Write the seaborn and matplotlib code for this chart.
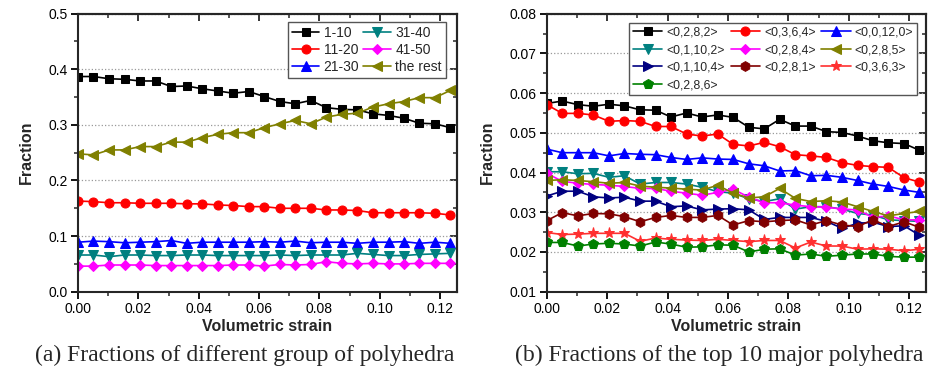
import matplotlib
matplotlib.use("Agg")
import matplotlib.pyplot as plt
from matplotlib.ticker import MultipleLocator, FormatStrFormatter
import seaborn as sns

# volumetric strain (x) shared by both panels
strain = [0.0, 0.0051, 0.0103, 0.0154, 0.0206, 0.0257, 0.0309, 0.0360, 0.0411,
          0.0463, 0.0514, 0.0566, 0.0617, 0.0669, 0.0720, 0.0771, 0.0823, 0.0874,
          0.0926, 0.0977, 0.1029, 0.1080, 0.1131, 0.1183, 0.1234]

# (a) groups of polyhedra
g1_10 = [0.387, 0.387, 0.383, 0.382, 0.379, 0.379, 0.369, 0.370, 0.365, 0.361, 0.357, 0.360, 0.351,
         0.342, 0.338, 0.344, 0.331, 0.328, 0.327, 0.320, 0.317, 0.312, 0.303, 0.302, 0.295]
g11_20 = [0.163, 0.162, 0.160, 0.160, 0.159, 0.159, 0.159, 0.158, 0.158, 0.156, 0.155, 0.153, 0.153,
          0.150, 0.150, 0.150, 0.147, 0.147, 0.146, 0.142, 0.142, 0.142, 0.142, 0.141, 0.138]
g21_30 = [0.089, 0.091, 0.090, 0.088, 0.089, 0.090, 0.092, 0.087, 0.089, 0.089, 0.089, 0.089, 0.090,
          0.089, 0.091, 0.088, 0.089, 0.089, 0.087, 0.089, 0.089, 0.090, 0.087, 0.089, 0.087]
g31_40 = [0.066, 0.066, 0.063, 0.066, 0.066, 0.065, 0.065, 0.066, 0.066, 0.065, 0.065, 0.065, 0.065,
          0.066, 0.065, 0.066, 0.066, 0.066, 0.069, 0.067, 0.065, 0.065, 0.067, 0.068, 0.069]
g41_50 = [0.046, 0.046, 0.048, 0.048, 0.048, 0.047, 0.047, 0.047, 0.047, 0.047, 0.048, 0.048, 0.046,
          0.049, 0.048, 0.049, 0.054, 0.051, 0.050, 0.051, 0.050, 0.050, 0.051, 0.051, 0.051]
g_rest = [0.248, 0.246, 0.255, 0.255, 0.261, 0.261, 0.269, 0.269, 0.277, 0.283, 0.286, 0.286, 0.295,
          0.302, 0.308, 0.302, 0.314, 0.319, 0.321, 0.332, 0.338, 0.342, 0.349, 0.349, 0.362]

labels_a = ["1-10", "11-20", "21-30", "31-40", "41-50", "the rest"]
series_a = [g1_10, g11_20, g21_30, g31_40, g41_50, g_rest]

# (b) top 10 polyhedra
p0282 = [0.0574, 0.0580, 0.0571, 0.0567, 0.0572, 0.0568, 0.0558, 0.0557, 0.0540, 0.0550, 0.0540, 0.0545, 0.0539,
         0.0514, 0.0510, 0.0534, 0.0517, 0.0517, 0.0503, 0.0501, 0.0492, 0.0480, 0.0475, 0.0473, 0.0456]
p0364 = [0.0571, 0.0549, 0.0549, 0.0545, 0.0529, 0.0531, 0.0529, 0.0516, 0.0516, 0.0497, 0.0492, 0.0497, 0.0471,
         0.0467, 0.0476, 0.0465, 0.0445, 0.0442, 0.0438, 0.0425, 0.0418, 0.0415, 0.0413, 0.0387, 0.0376]
p00120 = [0.0459, 0.0450, 0.0450, 0.0450, 0.0442, 0.0448, 0.0446, 0.0445, 0.0438, 0.0433, 0.0437, 0.0434, 0.0433,
          0.0422, 0.0417, 0.0404, 0.0405, 0.0392, 0.0393, 0.0388, 0.0380, 0.0371, 0.0365, 0.0356, 0.0350]
p01102 = [0.0402, 0.0402, 0.0397, 0.0398, 0.0388, 0.0392, 0.0371, 0.0375, 0.0375, 0.0371, 0.0363, 0.0352, 0.0348,
          0.0334, 0.0327, 0.0334, 0.0308, 0.0314, 0.0314, 0.0308, 0.0297, 0.0293, 0.0281, 0.0279, 0.0277]
p0284 = [0.0398, 0.0378, 0.0373, 0.0370, 0.0368, 0.0365, 0.0360, 0.0360, 0.0353, 0.0348, 0.0343, 0.0350, 0.0358,
         0.0338, 0.0324, 0.0324, 0.0318, 0.0314, 0.0313, 0.0308, 0.0306, 0.0287, 0.0291, 0.0281, 0.0281]
p0285 = [0.0380, 0.0382, 0.0380, 0.0377, 0.0373, 0.0375, 0.0366, 0.0363, 0.0361, 0.0358, 0.0356, 0.0368, 0.0348,
         0.0336, 0.0339, 0.0360, 0.0335, 0.0327, 0.0329, 0.0326, 0.0314, 0.0302, 0.0291, 0.0297, 0.0302]
p01104 = [0.0341, 0.0353, 0.0353, 0.0339, 0.0336, 0.0338, 0.0328, 0.0328, 0.0314, 0.0316, 0.0306, 0.0308, 0.0309,
          0.0306, 0.0282, 0.0287, 0.0287, 0.0287, 0.0277, 0.0260, 0.0272, 0.0275, 0.0264, 0.0266, 0.0242]
p0281 = [0.0279, 0.0299, 0.0291, 0.0297, 0.0296, 0.0289, 0.0276, 0.0287, 0.0292, 0.0287, 0.0287, 0.0292, 0.0268,
         0.0279, 0.0276, 0.0279, 0.0281, 0.0268, 0.0279, 0.0268, 0.0264, 0.0281, 0.0264, 0.0276, 0.0262]
p0363 = [0.0249, 0.0244, 0.0245, 0.0247, 0.0247, 0.0247, 0.0227, 0.0235, 0.0232, 0.0230, 0.0229, 0.0232, 0.0229,
         0.0226, 0.0229, 0.0229, 0.0210, 0.0225, 0.0215, 0.0215, 0.0207, 0.0208, 0.0207, 0.0203, 0.0207]
p0286 = [0.0224, 0.0224, 0.0215, 0.0220, 0.0222, 0.0220, 0.0215, 0.0225, 0.0220, 0.0212, 0.0213, 0.0218, 0.0217,
         0.0200, 0.0207, 0.0208, 0.0192, 0.0195, 0.0189, 0.0192, 0.0195, 0.0195, 0.0189, 0.0187, 0.0187]

labels_b = ["<0,2,8,2>", "<0,3,6,4>", "<0,0,12,0>", "<0,1,10,2>", "<0,2,8,4>",
            "<0,2,8,5>", "<0,1,10,4>", "<0,2,8,1>", "<0,3,6,3>", "<0,2,8,6>"]
series_b = [p0282, p0364, p00120, p01102, p0284, p0285, p01104, p0281, p0363, p0286]

colors = ["#000000", "#ff0000", "#0000ff", "#008080", "#ff00ff", "#808000",
          "#000080", "#800000", "#ff3030", "#008000"]
markers = ["s", "o", "^", "v", "D", "<", ">", "h", "*", "p"]
msizes = [6, 6.5, 7, 7, 5, 7, 7, 7, 8, 7]

sns.set_theme(style="ticks")
plt.rcParams["font.family"] = ["Liberation Sans", "DejaVu Sans"]
plt.rcParams["axes.linewidth"] = 1.5

fig = plt.figure(figsize=(9.46, 3.88), dpi=100)
ax1 = fig.add_axes([0.0825, 0.2482, 0.4006, 0.7165])
ax2 = fig.add_axes([0.578, 0.2482, 0.401, 0.7165])


def draw(ax, series, labels):
    for i, (vals, lab) in enumerate(zip(series, labels)):
        sns.lineplot(x=strain, y=vals, ax=ax, color=colors[i], marker=markers[i],
                     markersize=msizes[i], markeredgecolor=colors[i], linewidth=1.2,
                     label=lab, legend=False)


def style(ax, ymin, ymax, ystep, yfmt):
    ax.set_xlim(0, 0.1256)
    ax.set_ylim(ymin, ymax)
    ax.xaxis.set_major_locator(MultipleLocator(0.02))
    ax.xaxis.set_minor_locator(MultipleLocator(0.01))
    ax.xaxis.set_major_formatter(FormatStrFormatter("%.2f"))
    ax.yaxis.set_major_locator(MultipleLocator(ystep))
    ax.yaxis.set_minor_locator(MultipleLocator(ystep / 2))
    ax.yaxis.set_major_formatter(FormatStrFormatter(yfmt))
    ax.tick_params(which="major", direction="out", length=5, width=1.3, labelsize=10,
                   colors="black", pad=2.5)
    ax.tick_params(which="minor", direction="out", length=3, width=1.1)
    ax.yaxis.grid(True, which="major", linestyle=":", color="#999999", linewidth=0.9)
    ax.set_axisbelow(True)
    # mirrored ticks on top and right, pointing inward
    top = ax.secondary_xaxis("top")
    top.xaxis.set_major_locator(MultipleLocator(0.02))
    top.xaxis.set_minor_locator(MultipleLocator(0.01))
    top.tick_params(which="major", direction="in", length=5, width=1.3, labeltop=False)
    top.tick_params(which="minor", direction="in", length=3, width=1.1)
    right = ax.secondary_yaxis("right")
    right.yaxis.set_major_locator(MultipleLocator(ystep))
    right.yaxis.set_minor_locator(MultipleLocator(ystep / 2))
    right.tick_params(which="major", direction="in", length=5, width=1.3, labelright=False)
    right.tick_params(which="minor", direction="in", length=3, width=1.1)
    ax.set_xlabel("Volumetric strain", fontsize=11.5, fontweight="bold", labelpad=2)
    ax.set_ylabel("Fraction", fontsize=11.5, fontweight="bold", labelpad=10)


draw(ax1, series_a, labels_a)
style(ax1, 0.0, 0.5, 0.1, "%.1f")
h1 = ax1.get_lines()
ax1.legend(handles=h1, ncol=2, loc="upper right", bbox_to_anchor=(0.971, 0.970),
           borderaxespad=0, fontsize=10, handlelength=2.0, handletextpad=0.3,
           columnspacing=0.3, labelspacing=0.22, borderpad=0.3, fancybox=False,
           edgecolor="#555555", framealpha=1)

draw(ax2, series_b, labels_b)
style(ax2, 0.01, 0.08, 0.01, "%.2f")
h2 = ax2.get_lines()
order = [0, 3, 6, 9, 1, 4, 7, 2, 5, 8]
ax2.legend(handles=[h2[k] for k in order], ncol=3, loc="upper right",
           bbox_to_anchor=(0.976, 0.967), borderaxespad=0, fontsize=8.8,
           handlelength=2.4, handletextpad=0.35, columnspacing=0.45,
           labelspacing=0.45, borderpad=0.3, fancybox=False,
           edgecolor="#555555", framealpha=1)

fig.text(0.259, 0.083, "(a) Fractions of different group of polyhedra",
         ha="center", va="center", fontsize=17, family="Liberation Serif")
fig.text(0.760, 0.083, "(b) Fractions of the top 10 major polyhedra",
         ha="center", va="center", fontsize=17, family="Liberation Serif")

fig.savefig("out.png", dpi=100)
